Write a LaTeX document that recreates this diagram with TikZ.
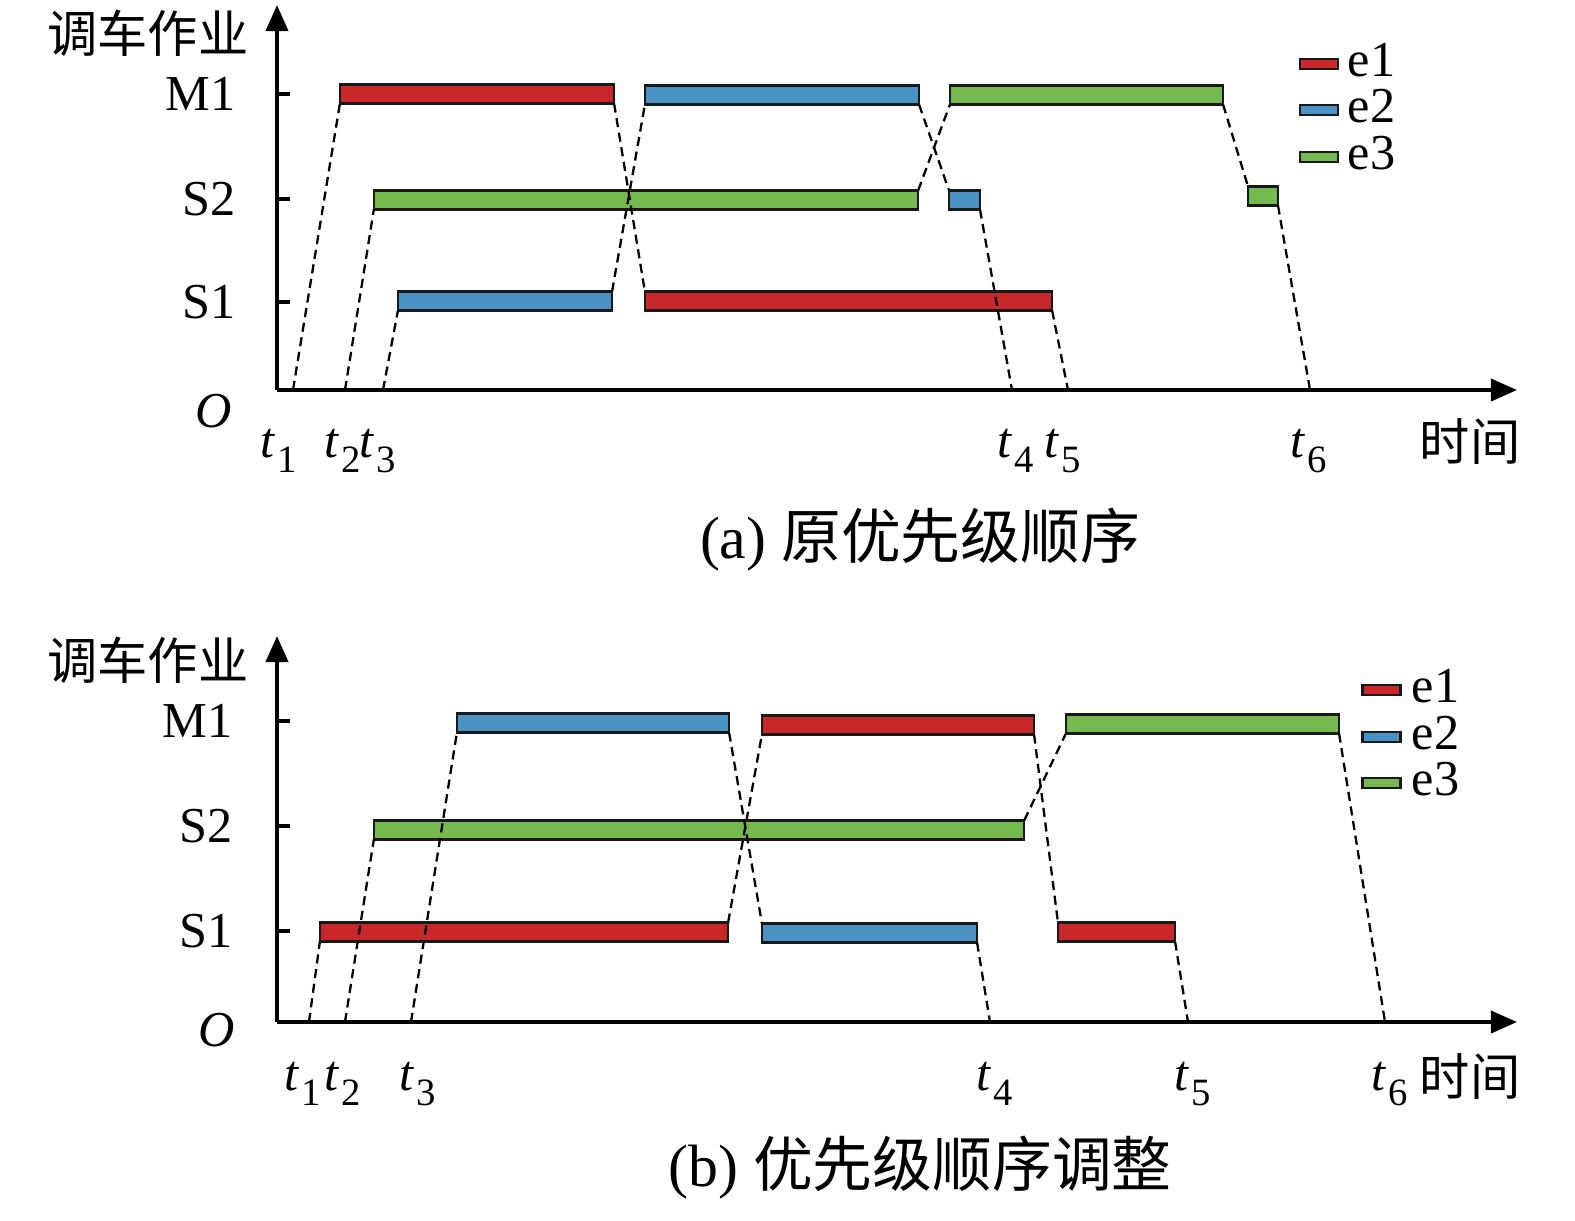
\documentclass[tikz,border=0pt]{standalone}
\usepackage{fontspec}
\setmainfont{Liberation Serif}
\newfontfamily\cjk{Noto Sans CJK SC}
\usetikzlibrary{arrows.meta}
\definecolor{ered}{RGB}{200,40,42}
\definecolor{eblue}{RGB}{74,145,196}
\definecolor{egreen}{RGB}{118,185,78}
\newcommand{\tlab}[1]{\textit{t}\kern0.5pt\raisebox{-0.3em}{\fontsize{11}{11}\selectfont #1}}
\begin{document}
\begin{tikzpicture}[x=0.01cm, y=-0.01cm,
  bar/.style={draw=black!90, line width=0.6pt, inner sep=0pt, outer sep=0pt, minimum height=0.19cm},
  keybox/.style={bar, minimum width=0.38cm, minimum height=0.1cm},
  link/.style={line width=0.65pt, dash pattern=on 2.6pt off 1.6pt},
  axisline/.style={line width=1.1pt, -{Triangle[length=0.26cm,width=0.22cm]}},
  tickline/.style={line width=0.9pt},
  lab/.style={inner sep=0pt, font=\fontsize{14.3}{17}\selectfont},
  captext/.style={inner sep=0pt, font=\fontsize{17}{20}\selectfont}]
\useasboundingbox (0,0) rectangle (1575,1220);
\coordinate (ao) at (277,390);
\coordinate (ayt) at (277,5);
\coordinate (axt) at (1517,390);
\draw[axisline] (ao) -- (ayt);
\draw[axisline] (ao) -- (axt);
\draw[tickline] (277,94) -- (290,94);
\draw[tickline] (277,199) -- (290,199);
\draw[tickline] (277,302) -- (290,302);
\node[lab] (ay) at (148,33) {\cjk 调车作业};
\node[lab, anchor=east] (am1) at (236,94) {M1};
\node[lab, anchor=east] (as2) at (236,199) {S2};
\node[lab, anchor=east] (as1) at (236,302) {S1};
\node[lab, anchor=base] (aO) at (214,427) {\textit{O}};
\node[bar, fill=ered, minimum width=2.74cm] (a1m) at (477,94) {};
\node[bar, fill=eblue, minimum width=2.74cm] (a2m) at (782,95) {};
\node[bar, fill=egreen, minimum width=2.73cm] (a3m) at (1086.5,95) {};
\node[bar, fill=egreen, minimum width=5.44cm] (a3s) at (646,200) {};
\node[bar, fill=eblue, minimum width=0.31cm] (a2s) at (964.5,200) {};
\node[bar, fill=egreen, minimum width=0.30cm] (a3x) at (1263,196) {};
\node[bar, fill=eblue, minimum width=2.14cm] (a2l) at (505,301) {};
\node[bar, fill=ered, minimum width=4.07cm] (a1l) at (848.5,301) {};
\coordinate (at1) at (293,390);
\coordinate (at2) at (345,390);
\coordinate (at3) at (383,390);
\coordinate (at4) at (1012,390);
\coordinate (at5) at (1068,390);
\coordinate (at6) at (1310,390);
\draw[link] (at1) -- (a1m.south west);
\draw[link] (at2) -- (a3s.south west);
\draw[link] (at3) -- (a2l.south west);
\draw[link] (a1m.south east) -- (a1l.north west);
\draw[link] (a2l.north east) -- (a2m.south west);
\draw[link] (a2m.south east) -- (a2s.north west);
\draw[link] (a3s.north east) -- (a3m.south west);
\draw[link] (a2s.south east) -- (at4);
\draw[link] (a1l.south east) -- (at5);
\draw[link] (a3m.south east) -- (a3x.north west);
\draw[link] (a3x.south east) -- (at6);
\node[lab, anchor=base] (lt1a) at (279,457) {\tlab{1}};
\node[lab, anchor=base] (lt2a) at (343,457) {\tlab{2}};
\node[lab, anchor=base] (lt3a) at (378,457) {\tlab{3}};
\node[lab, anchor=base] (lt4a) at (1016,457) {\tlab{4}};
\node[lab, anchor=base] (lt5a) at (1063,457) {\tlab{5}};
\node[lab, anchor=base] (lt6a) at (1309,457) {\tlab{6}};
\node[lab] (atime) at (1470,442) {\cjk 时间};
\node[keybox, fill=ered] (ak1) at (1319,64) {};
\node[keybox, fill=eblue] (ak2) at (1319,110) {};
\node[keybox, fill=egreen] (ak3) at (1319,157) {};
\node[lab, anchor=west] (ae1) at (1347,60) {e1};
\node[lab, anchor=west] (ae2) at (1347,106) {e2};
\node[lab, anchor=west] (ae3) at (1347,153) {e3};
\node[captext] (acap) at (920,540) {(a) {\cjk 原优先级顺序}};
\coordinate (bo) at (277,1022);
\coordinate (byt) at (277,636);
\coordinate (bxt) at (1517,1022);
\draw[axisline] (bo) -- (byt);
\draw[axisline] (bo) -- (bxt);
\draw[tickline] (277,721) -- (290,721);
\draw[tickline] (277,826) -- (290,826);
\draw[tickline] (277,931) -- (290,931);
\node[lab] (by) at (148,660) {\cjk 调车作业};
\node[lab, anchor=east] (bm1) at (233,721) {M1};
\node[lab, anchor=east] (bs2) at (233,826) {S2};
\node[lab, anchor=east] (bs1) at (233,931) {S1};
\node[lab, anchor=base] (bO) at (217,1046) {\textit{O}};
\node[bar, fill=eblue, minimum width=2.72cm] (b2m) at (593,723) {};
\node[bar, fill=ered, minimum width=2.72cm] (b1m) at (898,725) {};
\node[bar, fill=egreen, minimum width=2.73cm] (b3m) at (1202.5,724) {};
\node[bar, fill=egreen, minimum width=6.50cm] (b3s) at (699,830) {};
\node[bar, fill=ered, minimum width=4.08cm] (b1l) at (524,932) {};
\node[bar, fill=eblue, minimum width=2.15cm] (b2l) at (869.5,933) {};
\node[bar, fill=ered, minimum width=1.17cm] (b1x) at (1116.5,932) {};
\coordinate (bt1) at (309,1022);
\coordinate (bt2) at (345,1022);
\coordinate (bt3) at (411,1022);
\coordinate (bt4) at (990,1022);
\coordinate (bt5) at (1188,1022);
\coordinate (bt6) at (1385,1022);
\draw[link] (bt1) -- (b1l.south west);
\draw[link] (bt2) -- (b3s.south west);
\draw[link] (bt3) -- (b2m.south west);
\draw[link] (b2m.south east) -- (b2l.north west);
\draw[link] (b1l.north east) -- (b1m.south west);
\draw[link] (b2l.south east) -- (bt4);
\draw[link] (b1m.south east) -- (b1x.north west);
\draw[link] (b3s.north east) -- (b3m.south west);
\draw[link] (b1x.south east) -- (bt5);
\draw[link] (b3m.south east) -- (bt6);
\node[lab, anchor=base] (lt1b) at (303,1090) {\tlab{1}};
\node[lab, anchor=base] (lt2b) at (343,1090) {\tlab{2}};
\node[lab, anchor=base] (lt3b) at (418,1090) {\tlab{3}};
\node[lab, anchor=base] (lt4b) at (995,1090) {\tlab{4}};
\node[lab, anchor=base] (lt5b) at (1193,1090) {\tlab{5}};
\node[lab, anchor=base] (lt6b) at (1390,1090) {\tlab{6}};
\node[lab] (btime) at (1470,1076) {\cjk 时间};
\node[keybox, fill=ered] (bk1) at (1381.5,690) {};
\node[keybox, fill=eblue] (bk2) at (1381.5,737) {};
\node[keybox, fill=egreen] (bk3) at (1381.5,783) {};
\node[lab, anchor=west] (be1) at (1411,686) {e1};
\node[lab, anchor=west] (be2) at (1411,733) {e2};
\node[lab, anchor=west] (be3) at (1411,779) {e3};
\node[captext] (bcap) at (920,1168) {(b) {\cjk 优先级顺序调整}};
\end{tikzpicture}
\end{document}
